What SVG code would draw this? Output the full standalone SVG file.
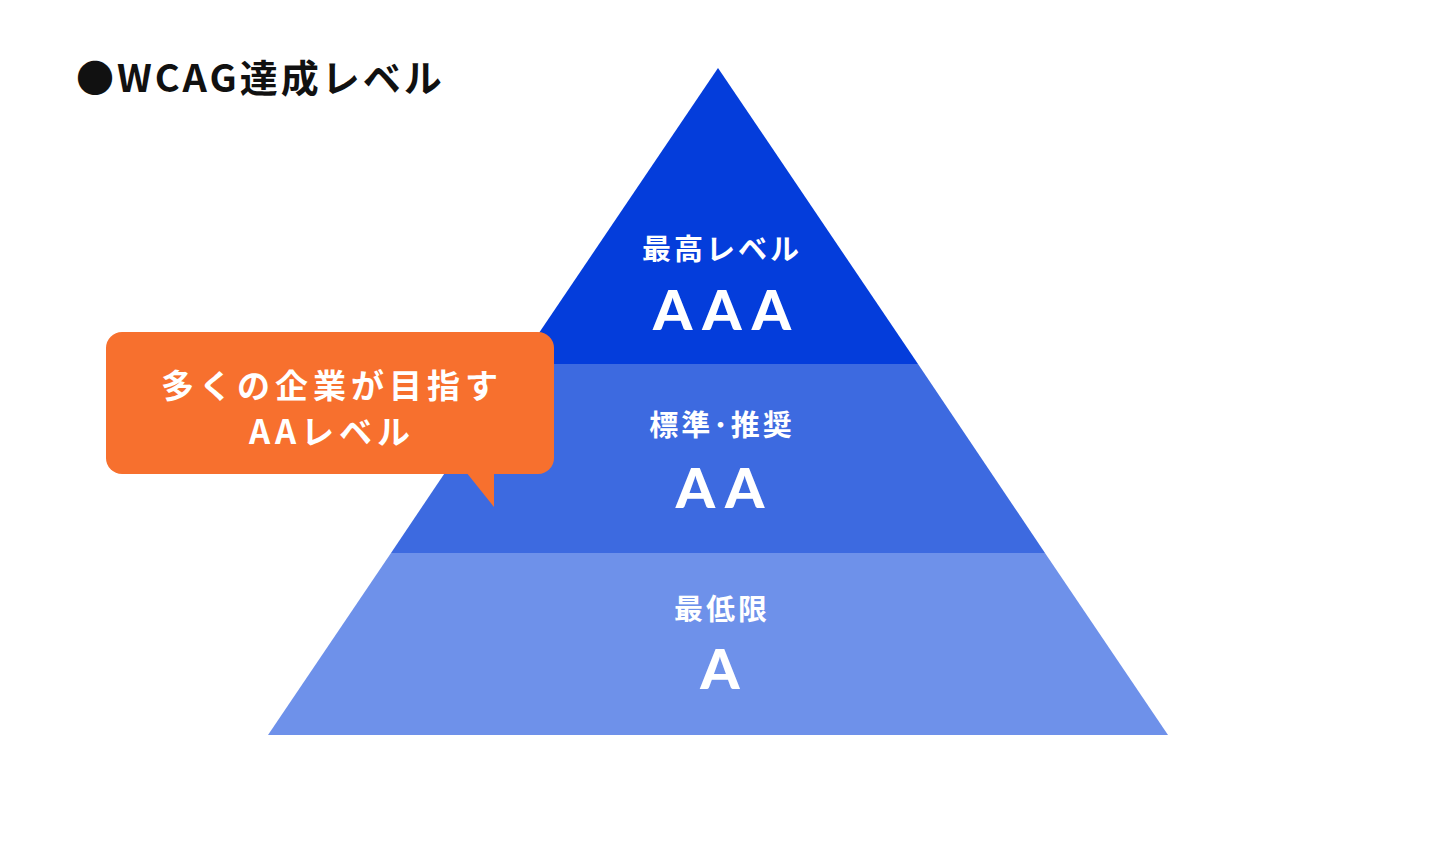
<svg xmlns="http://www.w3.org/2000/svg" width="1440" height="842" viewBox="0 0 1440 842">
<style>
text{font-family:"Noto Sans CJK JP","Noto Sans",sans-serif;font-weight:700;fill:#fff;text-anchor:middle}
.lbl{font-size:29px;letter-spacing:3px}
.big{font-family:"Lato","Noto Sans CJK JP",sans-serif;font-weight:900;font-size:56px;letter-spacing:10px}
</style>
<rect width="1440" height="842" fill="#fff"/>
<text x="76" y="92" style="fill:#111;text-anchor:start;font-size:38px;letter-spacing:3px">●WCAG達成レベル</text>
<g id="level-a"><polygon points="391,553 1045,553 1168,735 268,735" fill="#6e91ea"/>
<text class="lbl" x="722" y="620">最低限</text><text class="big" x="725" y="689">A</text></g>
<g id="level-aa"><polygon points="518,364 918,364 1045,553 391,553" fill="#3d6ae0"/>
<text class="lbl" x="722" y="436">標準･推奨</text><text class="big" x="725" y="508">AA</text></g>
<g id="level-aaa"><polygon points="718,68 918,364 518,364" fill="#043ddb"/>
<text class="lbl" x="722" y="260">最高レベル</text><text class="big" x="727" y="330">AAA</text></g>
<g id="callout"><rect x="106" y="332" width="448" height="142" rx="16" fill="#f7702e"/>
<polygon points="466,472 494,507 494,472" fill="#f7702e"/>
<text class="lbl" x="332" y="398" style="font-size:33px;letter-spacing:5px">多くの企業が目指す</text>
<text class="lbl" x="332" y="444" style="font-size:33px;letter-spacing:5px">AAレベル</text></g>
<g id="connectors"/>
</svg>
